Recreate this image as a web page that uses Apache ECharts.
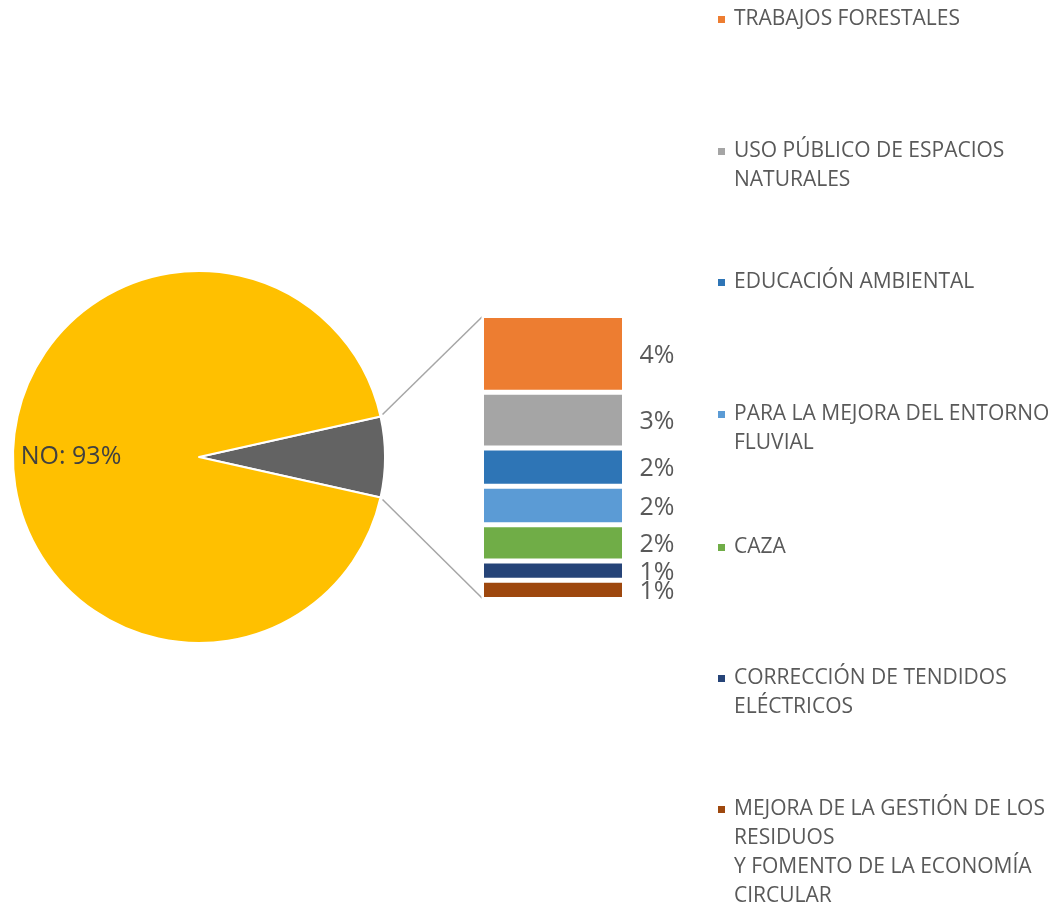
<!DOCTYPE html>
<html>
<head>
<meta charset="utf-8">
<script src="https://cdn.jsdelivr.net/npm/echarts@6/dist/echarts.min.js"></script>
<style>html,body{margin:0;padding:0;background:#fff;}#c{width:1056px;height:908px;}</style>
</head>
<body>
<div id="c"></div>
<script>
// ---- data ----
var pieNames = ['SÍ', 'NO'];
var pieValues = [7, 93];
var pieColors = ['#636363', '#FFC000'];

var barNames = [
  'TRABAJOS FORESTALES',
  'USO PÚBLICO DE ESPACIOS NATURALES',
  'EDUCACIÓN AMBIENTAL',
  'PARA LA MEJORA DEL ENTORNO FLUVIAL',
  'CAZA',
  'CORRECCIÓN DE TENDIDOS ELÉCTRICOS',
  'MEJORA DE LA GESTIÓN DE LOS RESIDUOS Y FOMENTO DE LA ECONOMÍA CIRCULAR'
];
var barLegendLines = [
  ['TRABAJOS FORESTALES'],
  ['USO PÚBLICO DE ESPACIOS', 'NATURALES'],
  ['EDUCACIÓN AMBIENTAL'],
  ['PARA LA MEJORA DEL ENTORNO', 'FLUVIAL'],
  ['CAZA'],
  ['CORRECCIÓN DE TENDIDOS', 'ELÉCTRICOS'],
  ['MEJORA DE LA GESTIÓN DE LOS', 'RESIDUOS', 'Y FOMENTO DE LA ECONOMÍA', 'CIRCULAR']
];
var barValues = [4.0, 2.9, 2.0, 2.0, 1.9, 1.0, 1.0];
var barColors = ['#ED7D31', '#A5A5A5', '#2E75B6', '#5B9BD5', '#70AD47', '#264478', '#9E480E'];

// ---- layout ----
var FONT = '"Open Sans", "DejaVu Sans", sans-serif';
var TEXT = '#595959';
var pieCenter = [199, 457];
var pieRadius = 186;
var total = pieValues.reduce(function (a, b) { return a + b; }, 0);
var siAngle = pieValues[0] / total * 360;
var startAngle = siAngle / 2;
var legendFirstLineY = [19.5, 151.5, 282.5, 414.5, 547.5, 678.5, 809.5];
var LH = 29;

var barTotal = barValues.reduce(function (a, b) { return a + b; }, 0);

var series = [{
  type: 'pie',
  center: pieCenter,
  radius: pieRadius,
  startAngle: startAngle,
  clockwise: true,
  animation: false,
  itemStyle: { borderColor: '#fff', borderWidth: 2 },
  label: {
    show: true,
    position: 'inside',
    fontFamily: FONT,
    fontSize: 25,
    color: '#404040',
    formatter: function (p) { return p.name === 'NO' ? p.name + ': ' + p.value + '%' : ''; }
  },
  labelLayout: { dx: -16 },
  emphasis: { disabled: true },
  data: pieNames.map(function (n, i) {
    return { name: n, value: pieValues[i], itemStyle: { color: pieColors[i] } };
  })
}];

// stack: bottom item first
for (var k = barNames.length - 1; k >= 0; k--) {
  series.push({
    type: 'bar',
    name: barNames[k],
    stack: 'si',
    barWidth: '100%',
    animation: false,
    color: barColors[k],
    itemStyle: { color: barColors[k], borderColor: '#fff', borderWidth: 2.5 },
    label: {
      show: true,
      position: 'right',
      distance: 15,
      offset: [0, 2],
      fontFamily: FONT,
      fontSize: 25,
      color: TEXT,
      formatter: function (p) { return Math.round(p.value) + '%'; }
    },
    emphasis: { disabled: true },
    data: [barValues[k]]
  });
}

var legends = barNames.map(function (name, i) {
  var lines = barLegendLines[i];
  var n = lines.length;
  var txt = [];
  for (var j = 0; j < n - 1; j++) txt.push(' ');
  txt = txt.concat(lines).join('\n');
  return {
    orient: 'vertical',
    left: 716,
    top: legendFirstLineY[i] - (2 * n - 1) * LH / 2,
    padding: 0,
    itemWidth: 9,
    itemHeight: 9,
    icon: 'rect',
    selectedMode: false,
    data: [name],
    formatter: function () { return txt; },
    textStyle: { fontFamily: FONT, fontSize: 21, color: TEXT, lineHeight: LH, padding: [0, 0, 0, 3] }
  };
});

var chart = echarts.init(document.getElementById('c'), null, { renderer: 'canvas' });
chart.setOption({
  backgroundColor: '#fff',
  animation: false,
  legend: legends,
  grid: { left: 481.5, width: 143, top: 315.5, bottom: 308.5, containLabel: false },
  xAxis: { type: 'category', data: ['SÍ'], show: false },
  yAxis: { type: 'value', min: 0, max: barTotal, show: false },
  series: series
});

// connector lines from the pie slice edges to the stacked bar corners
var rect = chart.getModel().getComponent('grid').coordinateSystem.getRect();
var topY = chart.convertToPixel({ yAxisIndex: 0 }, barTotal);
var botY = chart.convertToPixel({ yAxisIndex: 0 }, 0);
function edge(angDeg) {
  var a = angDeg * Math.PI / 180;
  return [pieCenter[0] + pieRadius * Math.cos(a), pieCenter[1] - pieRadius * Math.sin(a)];
}
var p1 = edge(startAngle), p2 = edge(startAngle - siAngle);
chart.setOption({
  graphic: [
    { type: 'line', silent: true, z: 0, shape: { x1: p1[0] + 2, y1: p1[1] - 2, x2: rect.x + 1, y2: topY + 1 }, style: { stroke: '#A6A6A6', lineWidth: 1.5 } },
    { type: 'line', silent: true, z: 0, shape: { x1: p2[0] + 2, y1: p2[1] + 2, x2: rect.x + 1, y2: botY - 1 }, style: { stroke: '#A6A6A6', lineWidth: 1.5 } }
  ]
});
</script>
</body>
</html>
